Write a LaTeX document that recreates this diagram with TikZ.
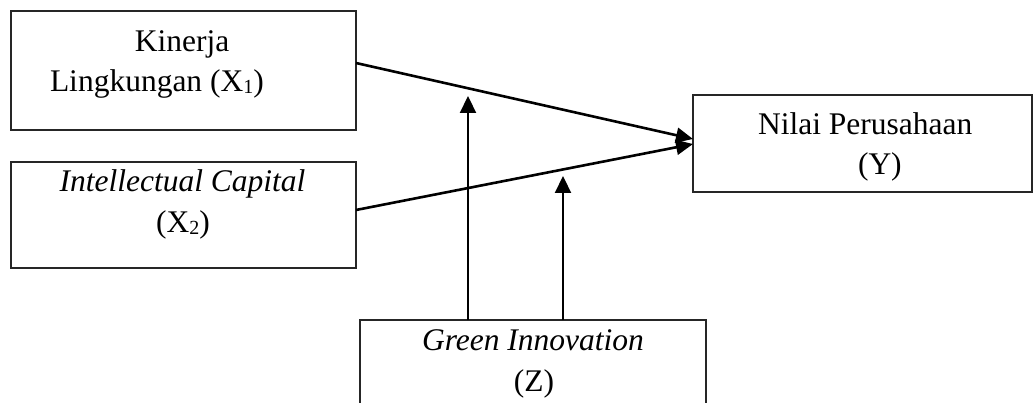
\documentclass[tikz,border=0pt]{standalone}
\usepackage{fontspec}
\setmainfont{Liberation Serif}
\usetikzlibrary{arrows.meta}
\newcommand\mysub[1]{\raisebox{-2pt}{\fontsize{20}{20}\selectfont #1}}
\begin{document}
\begin{tikzpicture}[x=1pt,y=-1pt,
  box/.style={draw=black!85, line width=1.3pt, inner sep=0pt, outer sep=0pt, rectangle},
  lbl/.style={inner sep=0pt, outer sep=0pt, font=\fontsize{31.5}{38}\selectfont},
  link/.style={line width=2.6pt, -{Triangle[length=17pt,width=15pt]}},
  modarrow/.style={line width=2.2pt, -{Triangle[length=17pt,width=16pt]}}]
\useasboundingbox (0,0) rectangle (1035,403);
\clip (0,0) rectangle (1035,403);
\fill[white] (0,0) rectangle (1035,403);
% boxes
\node[box, minimum width=345pt, minimum height=119pt] (X1) at (183.5,70.5) {};
\node[box, minimum width=345pt, minimum height=106pt] (X2) at (183.5,215) {};
\node[box, minimum width=339pt, minimum height=97pt] (Y) at (862.5,143.5) {};
\node[box, minimum width=346pt, minimum height=110pt] (Z) at (533,375) {};
% texts
\node[lbl, anchor=base] (t1) at (182,52) {Kinerja};
\node[lbl, anchor=base west] (t2) at (50,92) {Lingkungan (X\mysub{1})};
\node[lbl, anchor=base] (t3) at (182.5,192) {\itshape Intellectual Capital};
\node[lbl, anchor=base] (t4) at (183,233) {(X\mysub{2})};
\node[lbl, anchor=base west] (t5) at (758,135) {Nilai Perusahaan};
\node[lbl, anchor=base west] (t6) at (858,175) {(Y)};
\node[lbl, anchor=base] (t7) at (533,350) {\itshape Green Innovation};
\node[lbl, anchor=base] (t8) at (534,391) {(Z)};
% moderation targets
\coordinate (m1) at (468,96);
\coordinate (m2) at (563,176);
% connectors
\draw[link] ([yshift=7.5pt]X1.east) -- ([yshift=4.5pt]Y.west);
\draw[link] ([yshift=5pt]X2.east) -- ([yshift=-0.5pt]Y.west);
\draw[modarrow] (Z.north -| m1) -- (m1);
\draw[modarrow] (Z.north -| m2) -- (m2);
\end{tikzpicture}
\end{document}
